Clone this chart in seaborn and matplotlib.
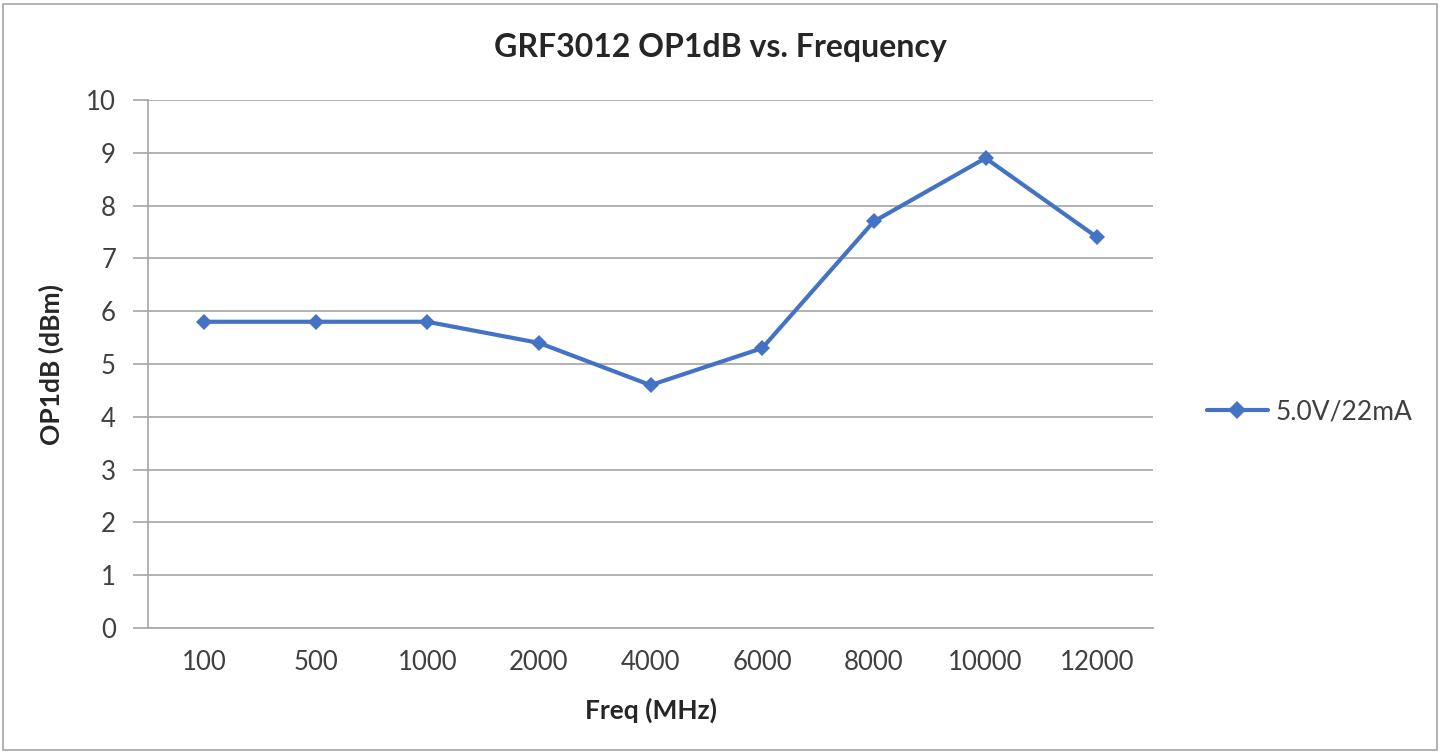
import matplotlib
matplotlib.use("Agg")
import matplotlib.pyplot as plt
import seaborn as sns
import pandas as pd
from matplotlib.patches import Rectangle

# chart data
freqs = ["100", "500", "1000", "2000", "4000", "6000", "8000", "10000", "12000"]
op1db = [5.8, 5.8, 5.8, 5.4, 4.6, 5.3, 7.7, 8.9, 7.4]
series_name = "5.0V/22mA"
y_ticks = list(range(0, 11))

df = pd.DataFrame({"Freq": freqs, "OP1dB": op1db})

sns.set_style("white")
plt.rcParams["font.family"] = ["Lato", "DejaVu Sans"]

fig = plt.figure(figsize=(14.4, 7.52), dpi=100)
ax = fig.add_axes([0.1028, 0.1649, 0.6979, 0.7021])

sns.lineplot(data=df, x="Freq", y="OP1dB", ax=ax, color="#4472C4", linewidth=3,
             marker="D", markersize=8, markeredgewidth=0, label=series_name, sort=False)

ax.set_xlim(-0.5, len(freqs) - 0.5)
ax.set_ylim(0, 10)
ax.set_yticks(y_ticks)
ax.yaxis.grid(True, color="#A6A6A6", linewidth=1.2)
ax.set_axisbelow(True)

for s in ["top", "right"]:
    ax.spines[s].set_visible(False)
ax.spines["left"].set_color("#A6A6A6")
ax.spines["bottom"].set_color("#A6A6A6")
ax.spines["left"].set_linewidth(1.2)
ax.spines["bottom"].set_linewidth(1.2)

ax.tick_params(axis="y", length=11, width=1.2, color="#A6A6A6", labelsize=18.5, pad=12,
               labelcolor="#404040", left=True)
ax.tick_params(axis="x", length=0, labelsize=18.5, pad=16, labelcolor="#404040")

ax.set_xlabel("Freq (MHz)", fontsize=19, fontweight="bold", color="#262626", labelpad=16)
ax.set_ylabel("OP1dB (dBm)", fontsize=19, fontweight="bold", color="#262626", labelpad=16)
fig.suptitle("GRF3012 OP1dB vs. Frequency", x=0.5, y=0.9365, va="center",
             fontsize=23, fontweight="bold", color="#262626")

ax.legend(loc="center left", bbox_to_anchor=(1.03, 0.41), frameon=False,
          fontsize=19, handlelength=2.3, handletextpad=0.3, labelcolor="#404040",
          markerscale=1.15)

fig.patches.append(Rectangle((0.002, 0.003), 0.996, 0.992, transform=fig.transFigure,
                             fill=False, edgecolor="#A6A6A6", linewidth=1.2))

fig.savefig("out.png", dpi=100)
